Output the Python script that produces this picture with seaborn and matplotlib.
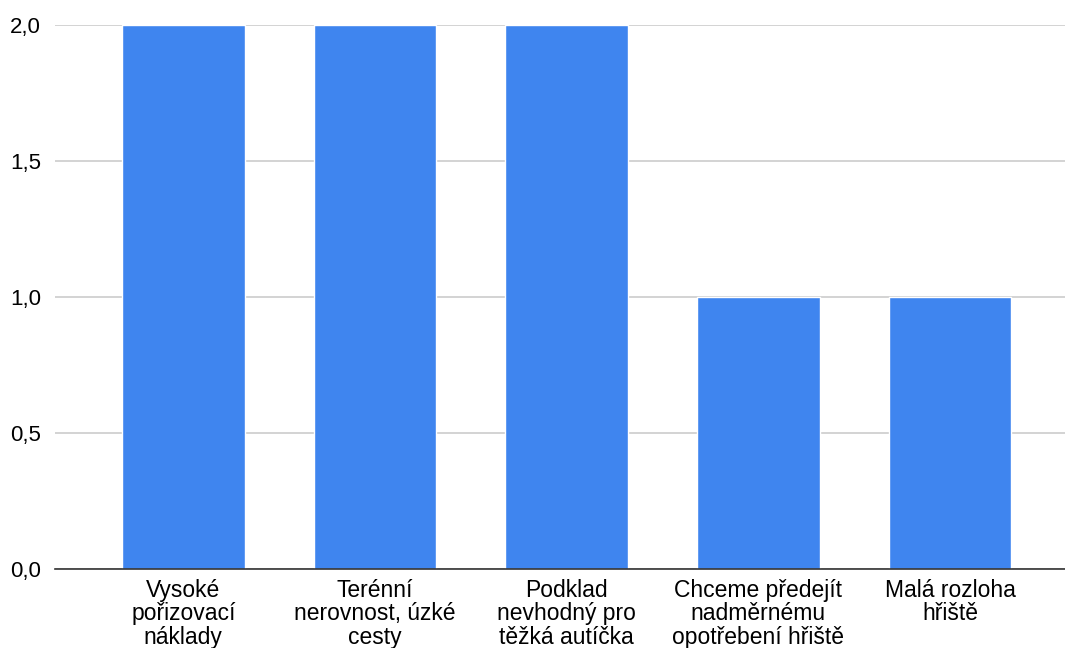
import matplotlib
matplotlib.use("Agg")
import matplotlib.pyplot as plt
import seaborn as sns
import pandas as pd

categories = [
    "Vysoké\npořizovací\nnáklady",
    "Terénní\nnerovnost, úzké\ncesty",
    "Podklad\nnevhodný pro\ntěžká autíčka",
    "Chceme předejít\nnadměrnému\nopotřebení hřiště",
    "Malá rozloha\nhřiště",
]
values = [2, 2, 2, 1, 1]
y_ticks = [0.0, 0.5, 1.0, 1.5, 2.0]
y_tick_labels = ["0,0", "0,5", "1,0", "1,5", "2,0"]

sns.set_theme(style="white")
plt.rcParams["font.family"] = ["Liberation Sans", "DejaVu Sans"]

df = pd.DataFrame({"kategorie": categories, "pocet": values})

fig = plt.figure(figsize=(10.65, 6.48), dpi=100)
ax = fig.add_axes([0.0516, 0.1219, 0.9484, 0.8395])

sns.barplot(data=df, x="kategorie", y="pocet", color="#3F85EF",
            saturation=1, width=0.64, ax=ax, zorder=3)

ax.set_ylim(0, 2.0)
ax.set_xlim(-0.67, 4.6)
ax.set_yticks(y_ticks)
ax.set_yticklabels(y_tick_labels)
ax.yaxis.grid(True, color="#cccccc", linewidth=1.2, zorder=0)
ax.set_axisbelow(True)
for side in ["top", "right", "left"]:
    ax.spines[side].set_visible(False)
ax.spines["bottom"].set_color("#333333")
ax.spines["bottom"].set_linewidth(1.2)
ax.spines["bottom"].set_zorder(4)
ax.tick_params(axis="both", length=0, colors="#000000")
ax.tick_params(axis="x", pad=7, labelsize=16.5)
ax.tick_params(axis="y", pad=10, labelsize=16)
for lbl in ax.get_xticklabels():
    lbl.set_linespacing(1.04)
ax.set_xlabel("")
ax.set_ylabel("")

fig.savefig("out.png", dpi=100)
